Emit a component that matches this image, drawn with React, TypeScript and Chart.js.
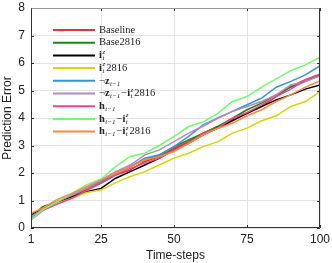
import React, { useEffect, useRef } from "react";
import { Chart, registerables } from "chart.js";

Chart.register(...registerables);

const timeSteps = [1, 5, 10, 15, 20, 25, 30, 35, 40, 45, 50, 55, 60, 65, 70, 75, 80, 85, 90, 95, 100];
const xTicks = [1, 25, 50, 75, 100];

const seriesLabels = [
  "Baseline",
  "Base2816",
  "*i*^{z}_{t}",
  "*i*^{z}_{t}2816",
  "¬*z*_{t−1}",
  "¬*z*_{t−1}−*i*^{z}_{t}2816",
  "*h*_{t−1}",
  "*h*_{t−1}−*i*^{z}_{t}",
  "*h*_{t−1}−*i*^{z}_{t}2816",
];

const seriesColors = [
  "#e63232",
  "#148a14",
  "#000000",
  "#d6d600",
  "#3396dc",
  "#b38ac0",
  "#ff3f8c",
  "#6cff6c",
  "#ff8a3c",
];

const baseline = [0.41, 0.68, 0.96, 1.14, 1.38, 1.63, 1.93, 2.11, 2.42, 2.6, 2.9, 3.14, 3.45, 3.69, 3.93, 4.17, 4.42, 4.78, 5.15, 5.39, 5.57];
const base2816 = [0.41, 0.78, 0.96, 1.14, 1.44, 1.69, 1.99, 2.23, 2.48, 2.66, 2.96, 3.2, 3.45, 3.69, 3.99, 4.3, 4.54, 4.84, 5.12, 5.33, 5.57];
const iz = [0.47, 0.72, 0.92, 1.12, 1.32, 1.44, 1.81, 2.05, 2.29, 2.54, 2.84, 3.08, 3.39, 3.63, 3.9, 4.17, 4.42, 4.66, 4.84, 5.05, 5.2];
const iz2816 = [0.41, 0.66, 0.9, 1.08, 1.29, 1.38, 1.65, 1.87, 2.05, 2.29, 2.54, 2.72, 2.96, 3.14, 3.45, 3.63, 3.9, 4.08, 4.42, 4.6, 4.96];
const notZ = [0.35, 0.66, 0.96, 1.2, 1.44, 1.69, 1.99, 2.23, 2.54, 2.66, 2.96, 3.33, 3.75, 4.0, 4.24, 4.48, 4.72, 5.12, 5.33, 5.57, 5.9];
const notZIz2816 = [0.41, 0.68, 0.96, 1.2, 1.44, 1.75, 2.05, 2.29, 2.66, 2.84, 3.14, 3.45, 3.71, 3.99, 4.24, 4.42, 4.6, 4.84, 5.2, 5.33, 5.53];
const hPrev = [0.29, 0.63, 0.87, 1.08, 1.36, 1.63, 1.93, 2.17, 2.36, 2.54, 2.84, 3.08, 3.45, 3.63, 3.99, 4.2, 4.48, 4.78, 5.05, 5.39, 5.6];
const hPrevIz = [0.3, 0.66, 0.96, 1.26, 1.57, 1.78, 2.23, 2.6, 2.72, 3.0, 3.33, 3.69, 3.86, 4.17, 4.6, 4.78, 5.12, 5.42, 5.72, 5.93, 6.21];
const hPrevIz2816 = [0.53, 0.72, 1.04, 1.26, 1.5, 1.75, 1.99, 2.23, 2.48, 2.6, 2.78, 3.08, 3.39, 3.63, 3.81, 4.08, 4.3, 4.6, 4.84, 5.12, 5.35];

const seriesValues = [baseline, base2816, iz, iz2816, notZ, notZIz2816, hPrev, hPrevIz, hPrevIz2816];

type Seg = { t: string; bold: boolean; kind: "n" | "sub" | "sup" };

function parseLabel(s: string): Seg[] {
  const segs: Seg[] = [];
  let bold = false;
  let buf = "";
  let i = 0;
  const flush = () => {
    if (buf) {
      segs.push({ t: buf, bold, kind: "n" });
      buf = "";
    }
  };
  while (i < s.length) {
    const c = s[i];
    if (c === "*") {
      flush();
      bold = !bold;
      i++;
      continue;
    }
    if ((c === "_" || c === "^") && s[i + 1] === "{") {
      flush();
      const end = s.indexOf("}", i);
      segs.push({ t: s.slice(i + 2, end), bold: false, kind: c === "_" ? "sub" : "sup" });
      i = end + 1;
      continue;
    }
    buf += c;
    i++;
  }
  flush();
  return segs;
}

const SERIF = '"Liberation Serif", "DejaVu Serif", serif';
const SANS = '"Liberation Sans", Arial, sans-serif';

const legendPlugin = {
  id: "insideLegend",
  afterDraw(chart: any) {
    const ctx = chart.ctx as CanvasRenderingContext2D;
    const { left, top } = chart.chartArea;
    const x0 = left + 22;
    const y0 = top + 22;
    const rowH = 12.7;
    ctx.save();
    chart.data.datasets.forEach((ds: any, idx: number) => {
      const y = y0 + idx * rowH;
      ctx.strokeStyle = ds.borderColor;
      ctx.lineWidth = 2;
      ctx.beginPath();
      ctx.moveTo(x0, y);
      ctx.lineTo(x0 + 42, y);
      ctx.stroke();
      let x = x0 + 46;
      const segs = parseLabel(ds.label);
      ctx.fillStyle = "#222";
      ctx.textBaseline = "middle";
      ctx.textAlign = "left";
      for (let k = 0; k < segs.length; k++) {
        const s = segs[k];
        if (s.kind === "n") {
          ctx.font = `${s.bold ? "bold " : ""}10.5px ${SERIF}`;
          ctx.fillText(s.t, x, y);
          x += ctx.measureText(s.t).width;
        } else {
          ctx.font = `italic 7px ${SERIF}`;
          const next = segs[k + 1];
          if (s.kind === "sup" && next && next.kind === "sub") {
            ctx.fillText(s.t, x + 0.5, y - 3.5);
            ctx.fillText(next.t, x + 0.5, y + 3);
            x += Math.max(ctx.measureText(s.t).width, ctx.measureText(next.t).width) + 1.5;
            k++;
          } else {
            ctx.fillText(s.t, x + 0.5, s.kind === "sub" ? y + 3 : y - 3.5);
            x += ctx.measureText(s.t).width + 1.5;
          }
        }
      }
    });
    ctx.restore();
  },
};

const framePlugin = {
  id: "frameBox",
  afterDatasetsDraw(chart: any) {
    const ctx = chart.ctx as CanvasRenderingContext2D;
    const { left, right, top, bottom } = chart.chartArea;
    const xs = chart.scales.x;
    const ys = chart.scales.y;
    ctx.save();
    ctx.lineWidth = 1;
    ctx.strokeStyle = "#333";
    ctx.beginPath();
    ys.ticks.forEach((t: any) => {
      const py = Math.round(ys.getPixelForValue(t.value)) + 0.5;
      ctx.moveTo(left, py);
      ctx.lineTo(left + 3, py);
      ctx.moveTo(right, py);
      ctx.lineTo(right - 3, py);
    });
    xs.ticks.forEach((t: any) => {
      const px = Math.round(xs.getPixelForValue(t.value)) + 0.5;
      ctx.moveTo(px, bottom);
      ctx.lineTo(px, bottom - 3);
      ctx.moveTo(px, top);
      ctx.lineTo(px, top + 3);
    });
    ctx.stroke();
    const l = Math.round(left) + 0.5;
    const r = Math.round(right) - 0.5;
    const t = Math.round(top) + 0.5;
    const b = Math.round(bottom) - 0.5;
    ctx.strokeStyle = "#999";
    ctx.beginPath();
    ctx.moveTo(l, t);
    ctx.lineTo(r, t);
    ctx.stroke();
    ctx.strokeStyle = "#333";
    ctx.beginPath();
    ctx.moveTo(r, t);
    ctx.lineTo(r, b);
    ctx.lineTo(l, b);
    ctx.lineTo(l, t);
    ctx.stroke();
    ctx.restore();
  },
};

export default function App() {
  const canvasRef = useRef<HTMLCanvasElement | null>(null);

  useEffect(() => {
    document.body.style.margin = "0";
    const canvas = canvasRef.current;
    if (!canvas) return;
    const n = seriesLabels.length;
    const chart = new Chart(canvas, {
      type: "line",
      data: {
        datasets: seriesLabels.map((label, i) => ({
          label,
          data: timeSteps.map((x, j) => ({ x, y: seriesValues[i][j] })),
          borderColor: seriesColors[i],
          backgroundColor: seriesColors[i],
          borderWidth: 1.5,
          pointRadius: 0,
          tension: 0,
          fill: false,
          order: n - i,
        })),
      },
      options: {
        responsive: false,
        animation: false,
        events: [],
        layout: { padding: { top: 8, right: 12, left: 0, bottom: 0 } },
        plugins: {
          legend: { display: false },
          tooltip: { enabled: false },
        },
        scales: {
          x: {
            type: "linear",
            min: 1,
            max: 100,
            afterBuildTicks: (scale: any) => {
              scale.ticks = xTicks.map((v) => ({ value: v }));
            },
            afterFit: (scale: any) => {
              scale.height = 35;
              scale.paddingLeft = 0;
              scale.paddingRight = 0;
            },
            grid: { color: "#e4e4e4", drawTicks: false },
            border: { display: false },
            ticks: {
              padding: 4,
              color: "#222",
              font: { family: SANS, size: 12 },
              maxRotation: 0,
              autoSkip: false,
            },
            title: {
              display: true,
              text: "Time-steps",
              color: "#222",
              padding: { top: 0, bottom: 1.5 },
              font: { family: SANS, size: 12, lineHeight: 1 },
            },
          },
          y: {
            min: 0,
            max: 8,
            ticks: {
              stepSize: 1,
              padding: 6,
              color: "#222",
              font: { family: SANS, size: 12 },
            },
            afterFit: (scale: any) => {
              scale.width = 31;
              scale.paddingTop = 0;
              scale.paddingBottom = 0;
            },
            grid: { color: "#e4e4e4", drawTicks: false },
            border: { display: false },
            title: {
              display: true,
              text: "Prediction Error",
              color: "#222",
              padding: { top: 1.5, bottom: 0 },
              font: { family: SANS, size: 12, lineHeight: 1 },
            },
          },
        },
      },
      plugins: [framePlugin, legendPlugin],
    } as any);
    return () => chart.destroy();
  }, []);

  return (
    <div style={{ width: 332, height: 263 }}>
      <canvas ref={canvasRef} width={332} height={263} style={{ display: "block" }} />
    </div>
  );
}
